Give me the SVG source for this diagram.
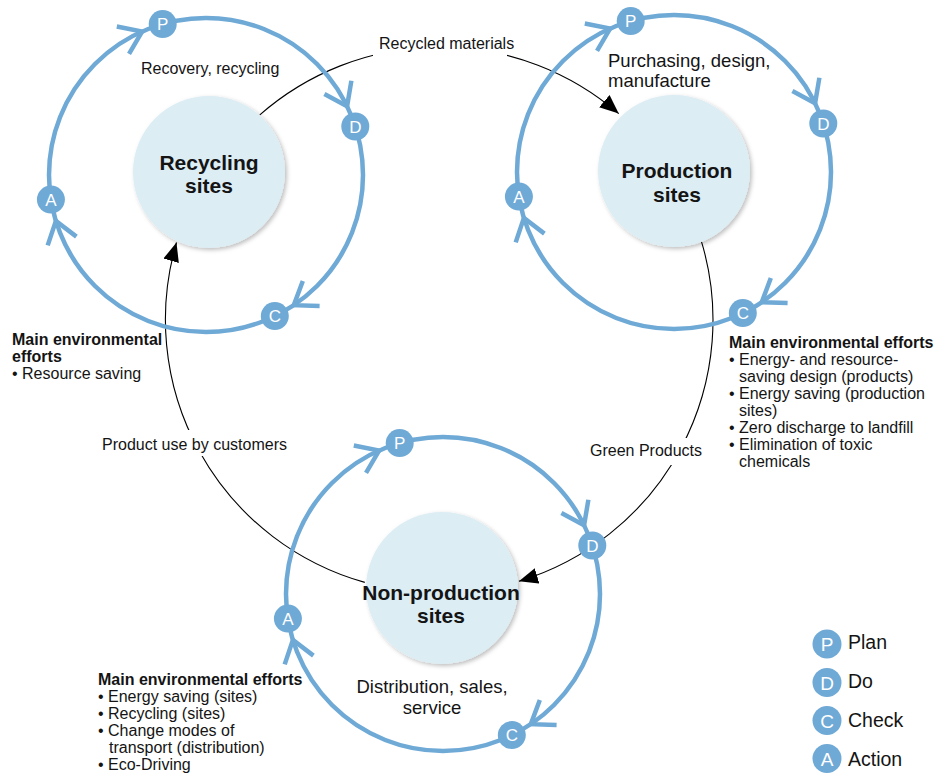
<svg xmlns="http://www.w3.org/2000/svg" xmlns:xlink="http://www.w3.org/1999/xlink" width="947" height="774" viewBox="0 0 947 774">
<style>
text{font-family:"Liberation Sans",Arial,Helvetica,sans-serif;fill:#141414}
.ring{fill:none;stroke:#6fa9d6;stroke-width:4.5}
.chev{fill:none;stroke:#6fa9d6;stroke-width:4.5;stroke-linejoin:miter}
.badge{fill:#6fa9d6}
.bl{fill:#fff;font-size:17px;text-anchor:middle}
.lgl{fill:#fff;font-size:19px;text-anchor:middle}
.inner{fill:#dcedf4;filter:url(#sh)}
.title{font-size:21px;font-weight:bold;text-anchor:middle}
.lbl{font-size:16px}
.big{font-size:18.5px}
.blk{font-size:16px}
.hd{font-weight:bold}
.conn{fill:none;stroke:#000;stroke-width:1.1}
.legend{font-size:19.5px}
</style>
<defs>
<filter id="sh" x="-20%" y="-20%" width="140%" height="140%">
<feDropShadow dx="2" dy="2" stdDeviation="2" flood-color="#000" flood-opacity="0.25"/>
</filter>
<marker id="arr" markerUnits="userSpaceOnUse" viewBox="0 0 19 16" refX="19" refY="8" markerWidth="19" markerHeight="16" orient="auto">
<path d="M0,0 L19,8 L0,16 z" fill="#000"/>
</marker>
<path id="chv" class="chev" d="M-21,-15 L0,0 L-21,15"/>
<g id="cycle">
<circle class="ring" cx="0" cy="0" r="157"/>
<use xlink:href="#chv" transform="translate(-63.9,-143.4) rotate(-24)"/>
<use xlink:href="#chv" transform="translate(141.1,-68.8) rotate(64)"/>
<use xlink:href="#chv" transform="translate(87.8,130.2) rotate(146)"/>
<use xlink:href="#chv" transform="translate(-150.1,45.9) rotate(253)"/>
<circle class="badge" cx="-43.3" cy="-150.9" r="14"/>
<circle class="badge" cx="149.3" cy="-48.5" r="14"/>
<circle class="badge" cx="68.8" cy="141.1" r="14"/>
<circle class="badge" cx="-155.1" cy="24.6" r="14"/>
<text class="bl" x="-43.3" y="-144.9">P</text>
<text class="bl" x="149.3" y="-42.5">D</text>
<text class="bl" x="68.8" y="147.1">C</text>
<text class="bl" x="-155.1" y="30.6">A</text>
</g>
</defs>

<g id="connectors">
<path class="conn" d="M259.8,114.9 A273,273 0 0 1 618.7,113.6" marker-end="url(#arr)"/>
<path class="conn" d="M700.8,239.3 A273,273 0 0 1 518.9,581.3" marker-end="url(#arr)"/>
<path class="conn" d="M364.8,582.4 A273,273 0 0 1 176.5,242.5" marker-end="url(#arr)"/>
<rect x="373" y="30" width="134" height="28" fill="#fff"/>
<text class="lbl" x="379" y="49">Recycled materials</text>
<rect x="588" y="438" width="116" height="27" fill="#fff"/>
<text class="lbl" x="590" y="456">Green Products</text>
<rect x="100" y="430" width="192" height="26" fill="#fff"/>
<text class="lbl" x="102" y="450">Product use by customers</text>
</g>

<g id="recycling">
<use xlink:href="#cycle" transform="translate(206,175)"/>
<circle class="inner" cx="209" cy="172" r="76"/>
<text class="title" x="209" y="170">Recycling</text>
<text class="title" x="209" y="193">sites</text>
<text class="lbl" x="141" y="74">Recovery, recycling</text>
</g>

<g id="production">
<use xlink:href="#cycle" transform="translate(674,172)"/>
<circle class="inner" cx="674" cy="171" r="76"/>
<text class="title" x="677" y="178">Production</text>
<text class="title" x="677" y="202">sites</text>
<text class="big" x="608" y="67">Purchasing, design,</text>
<text class="big" x="608" y="87">manufacture</text>
</g>

<g id="nonproduction">
<use xlink:href="#cycle" transform="translate(443,594)"/>
<circle class="inner" cx="442" cy="588" r="76"/>
<text class="title" x="441" y="600">Non-production</text>
<text class="title" x="441" y="623">sites</text>
<text class="big" x="432" y="693" text-anchor="middle">Distribution, sales,</text>
<text class="big" x="432" y="714" text-anchor="middle">service</text>
</g>

<g id="efforts-recycling">
<text class="blk hd" x="12" y="345">Main environmental</text>
<text class="blk hd" x="12" y="362">efforts</text>
<text class="blk" x="12" y="379">• Resource saving</text>
</g>

<g id="efforts-production">
<text class="blk hd" x="729" y="348">Main environmental efforts</text>
<text class="blk" x="729" y="365">• Energy- and resource-</text>
<text class="blk" x="739" y="382">saving design (products)</text>
<text class="blk" x="729" y="399">• Energy saving (production</text>
<text class="blk" x="739" y="416">sites)</text>
<text class="blk" x="729" y="433">• Zero discharge to landfill</text>
<text class="blk" x="729" y="450">• Elimination of toxic</text>
<text class="blk" x="739" y="467">chemicals</text>
</g>

<g id="efforts-nonproduction">
<text class="blk hd" x="98" y="685">Main environmental efforts</text>
<text class="blk" x="98" y="702">• Energy saving (sites)</text>
<text class="blk" x="98" y="719">• Recycling (sites)</text>
<text class="blk" x="98" y="736">• Change modes of</text>
<text class="blk" x="109" y="753">transport (distribution)</text>
<text class="blk" x="98" y="770">• Eco-Driving</text>
</g>

<g id="legend">
<circle class="badge" cx="827" cy="644" r="14.5"/>
<text class="lgl" x="827" y="651">P</text>
<text class="legend" x="848" y="649">Plan</text>
<circle class="badge" cx="827" cy="682.5" r="14.5"/>
<text class="lgl" x="827" y="689.5">D</text>
<text class="legend" x="848" y="688">Do</text>
<circle class="badge" cx="827" cy="720.5" r="14.5"/>
<text class="lgl" x="827" y="727.5">C</text>
<text class="legend" x="848" y="727">Check</text>
<circle class="badge" cx="827" cy="758.5" r="14.5"/>
<text class="lgl" x="827" y="765.5">A</text>
<text class="legend" x="848" y="766">Action</text>
</g>
</svg>
